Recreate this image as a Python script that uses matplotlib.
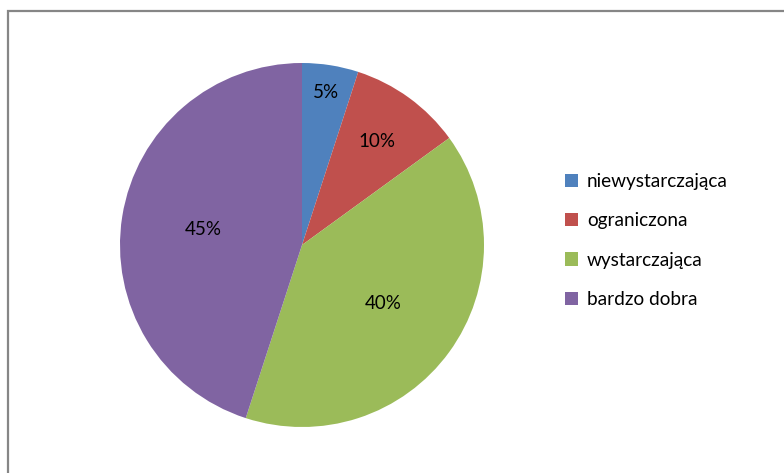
import matplotlib
matplotlib.use("Agg")
import matplotlib.pyplot as plt
from matplotlib.patches import Rectangle, Patch
import numpy as np

categories = ["niewystarczająca", "ograniczona", "wystarczająca", "bardzo dobra"]
values = [5, 10, 40, 45]
colors = ["#4F81BD", "#C0504D", "#9BBB59", "#8064A2"]
label_radius = [0.85, 0.70, 0.55, 0.55]

plt.rcParams["font.family"] = ["Lato", "DejaVu Sans"]

W, H = 784, 473
fig = plt.figure(figsize=(W / 100, H / 100), dpi=100)

# outer chart frame (only left and top edges fall inside the canvas)
fig.patches.append(Rectangle((8 / W, -0.1), 1.2, 1 - 11 / H + 0.1,
                             transform=fig.transFigure, fill=False,
                             edgecolor="#868686", linewidth=1.6))

cx, cy, r = 302, 245, 182
ax = fig.add_axes([(cx - r) / W, (H - cy - r) / H, 2 * r / W, 2 * r / H])
wedges, _ = ax.pie(values, colors=colors, startangle=90, counterclock=False,
                   radius=1.0, wedgeprops=dict(linewidth=0))
ax.set_xlim(-1, 1)
ax.set_ylim(-1, 1)
ax.set_aspect("equal")
ax.axis("off")

total = sum(values)
start = 90.0
for v, rf in zip(values, label_radius):
    span = 360.0 * v / total
    mid = np.deg2rad(start - span / 2)
    ax.text(rf * np.cos(mid), rf * np.sin(mid), f"{v}%", ha="center",
            va="center", fontsize=13.5, color="#000000")
    start -= span

handles = [Patch(facecolor=c, edgecolor="none") for c in colors]
fig.legend(handles, categories, loc="upper left",
           bbox_to_anchor=(548 / W, 1 - 156 / H), frameon=False,
           fontsize=13.7, labelspacing=1.17, handlelength=0.7,
           handleheight=0.7, handletextpad=0.45)

fig.savefig("out.png", dpi=100)
